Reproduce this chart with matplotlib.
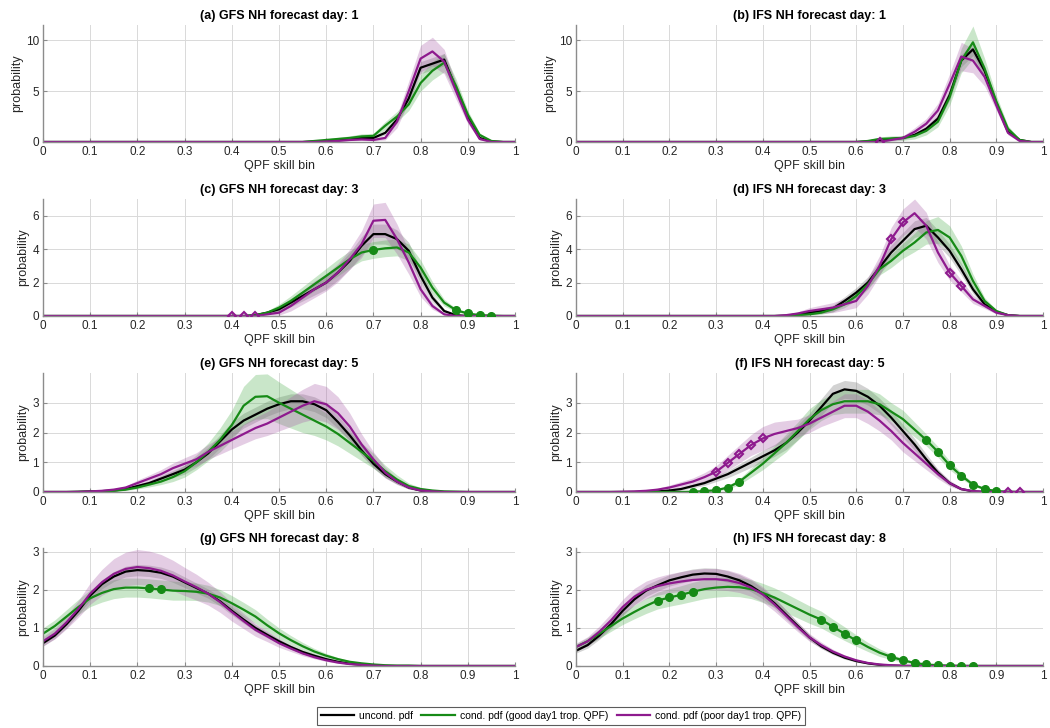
import matplotlib
matplotlib.use("Agg")
import matplotlib.pyplot as plt
import numpy as np

plt.rcParams["font.family"] = ["Liberation Sans", "DejaVu Sans"]

# skill bins 0:0.025:1
skill_bins = np.round(np.arange(41) * 0.025, 3)

panel_titles = [
    "(a) GFS NH forecast day: 1", "(b) IFS NH forecast day: 1",
    "(c) GFS NH forecast day: 3", "(d) IFS NH forecast day: 3",
    "(e) GFS NH forecast day: 5", "(f) IFS NH forecast day: 5",
    "(g) GFS NH forecast day: 8", "(h) IFS NH forecast day: 8",
]
y_limits = [11.5, 11.5, 7, 7, 4, 4, 3.1, 3.1]
y_ticks = [[0, 5, 10], [0, 5, 10], [0, 2, 4, 6], [0, 2, 4, 6],
           [0, 1, 2, 3], [0, 1, 2, 3], [0, 1, 2, 3], [0, 1, 2, 3]]

# ---- (a) GFS day 1
a_unc = [0] * 23 + [0.05, 0.1, 0.2, 0.3, 0.4, 0.4, 0.9, 2.2, 4.3, 7.3, 7.7, 8.1, 5.3, 2.5, 0.4, 0.05, 0, 0]
a_unc_err = [0] * 23 + [0.02, 0.05, 0.08, 0.1, 0.12, 0.12, 0.2, 0.35, 0.5, 0.6, 0.6, 0.6, 0.5, 0.3, 0.1, 0.02, 0, 0]
a_good = [0] * 23 + [0.1, 0.2, 0.3, 0.4, 0.55, 0.6, 1.6, 2.5, 3.7, 5.8, 7.0, 7.8, 5.5, 2.7, 0.7, 0.1, 0, 0]
a_good_err = [0] * 23 + [0.05, 0.1, 0.15, 0.2, 0.25, 0.25, 0.4, 0.5, 0.6, 0.8, 0.9, 0.9, 0.7, 0.4, 0.2, 0.05, 0, 0]
a_poor = [0] * 24 + [0.05, 0.1, 0.2, 0.25, 0.2, 0.4, 2.0, 5.0, 8.2, 8.9, 7.9, 5.0, 2.2, 0.3, 0, 0, 0]
a_poor_err = [0] * 24 + [0.03, 0.05, 0.08, 0.1, 0.1, 0.2, 0.6, 1.0, 1.3, 1.4, 1.2, 0.8, 0.4, 0.1, 0, 0, 0]
a_good_sig = []
a_poor_sig = []

# ---- (b) IFS day 1
b_unc = [0] * 25 + [0.05, 0.2, 0.3, 0.4, 0.7, 1.3, 2.3, 4.6, 8.0, 9.1, 7.0, 3.8, 1.0, 0.2, 0, 0]
b_unc_err = [0] * 25 + [0.02, 0.08, 0.1, 0.12, 0.15, 0.25, 0.35, 0.5, 0.6, 0.6, 0.5, 0.35, 0.15, 0.05, 0, 0]
b_good = [0] * 25 + [0.1, 0.3, 0.35, 0.4, 0.6, 1.1, 2.0, 4.4, 8.0, 9.8, 7.2, 4.0, 1.3, 0.2, 0, 0]
b_good_err = [0] * 25 + [0.08, 0.2, 0.25, 0.25, 0.3, 0.4, 0.5, 0.8, 1.2, 1.6, 1.0, 0.6, 0.3, 0.1, 0, 0]
b_poor = [0] * 26 + [0.0, 0.2, 0.4, 1.0, 1.8, 3.1, 5.7, 8.4, 8.0, 6.4, 3.6, 0.9, 0.1, 0, 0]
b_poor_err = [0] * 26 + [0.0, 0.1, 0.2, 0.4, 0.5, 0.7, 1.0, 1.4, 1.2, 0.9, 0.5, 0.2, 0.05, 0, 0]
b_good_sig = []
b_poor_sig = [0.65]

# ---- (c) GFS day 3
c_unc = [0] * 18 + [0.05, 0.2, 0.4, 0.8, 1.2, 1.6, 2.0, 2.6, 3.3, 4.2, 4.9, 4.9, 4.6, 3.9, 2.4, 1.1, 0.3, 0.05, 0, 0, 0, 0, 0]
c_unc_err = [0] * 18 + [0.02, 0.08, 0.15, 0.25, 0.3, 0.35, 0.4, 0.45, 0.5, 0.55, 0.6, 0.6, 0.55, 0.5, 0.4, 0.25, 0.1, 0.02, 0, 0, 0, 0, 0]
c_good = [0] * 18 + [0.05, 0.2, 0.5, 0.9, 1.4, 1.9, 2.4, 2.9, 3.4, 3.8, 3.95, 4.05, 4.1, 3.8, 2.9, 1.7, 0.8, 0.35, 0.15, 0.05, 0.02, 0, 0]
c_good_err = [0] * 18 + [0.02, 0.1, 0.2, 0.3, 0.35, 0.4, 0.45, 0.5, 0.5, 0.5, 0.5, 0.5, 0.5, 0.5, 0.45, 0.35, 0.2, 0.1, 0.05, 0.02, 0, 0, 0]
c_poor = [0] * 16 + [0, 0, 0, 0.1, 0.2, 0.6, 1.1, 1.6, 2.0, 2.6, 3.4, 4.3, 5.7, 5.75, 4.6, 3.2, 1.6, 0.6, 0.1, 0, 0, 0, 0, 0, 0]
c_poor_err = [0] * 16 + [0, 0, 0, 0.05, 0.15, 0.3, 0.4, 0.5, 0.5, 0.55, 0.6, 0.8, 1.0, 1.05, 0.9, 0.7, 0.45, 0.2, 0.05, 0, 0, 0, 0, 0, 0]
c_good_sig = [0.7, 0.875, 0.9, 0.925, 0.95]
c_poor_sig = [0.4, 0.425, 0.45]

# ---- (d) IFS day 3
d_unc = [0] * 18 + [0.02, 0.1, 0.2, 0.3, 0.45, 0.9, 1.4, 2.0, 2.9, 3.8, 4.5, 5.2, 5.4, 4.7, 3.9, 2.8, 1.6, 0.7, 0.25, 0.05, 0, 0, 0]
d_unc_err = [0] * 18 + [0.02, 0.05, 0.1, 0.15, 0.2, 0.25, 0.3, 0.35, 0.4, 0.45, 0.5, 0.5, 0.5, 0.45, 0.4, 0.35, 0.25, 0.15, 0.05, 0.02, 0, 0, 0]
d_good = [0] * 18 + [0, 0.05, 0.1, 0.2, 0.4, 0.7, 1.2, 1.9, 2.8, 3.3, 3.9, 4.4, 5.0, 5.15, 4.7, 3.6, 2.1, 0.9, 0.3, 0.05, 0, 0, 0]
d_good_err = [0] * 18 + [0, 0.03, 0.05, 0.1, 0.15, 0.2, 0.25, 0.3, 0.35, 0.4, 0.45, 0.55, 0.7, 0.8, 0.7, 0.6, 0.4, 0.2, 0.08, 0.02, 0, 0, 0]
d_poor = [0] * 18 + [0.05, 0.15, 0.3, 0.4, 0.5, 0.7, 0.9, 1.8, 3.0, 4.6, 5.6, 6.15, 5.4, 3.8, 2.6, 1.8, 1.0, 0.6, 0.2, 0.05, 0, 0, 0]
d_poor_err = [0] * 18 + [0.03, 0.1, 0.2, 0.25, 0.3, 0.35, 0.4, 0.5, 0.6, 0.7, 0.8, 0.85, 0.8, 0.6, 0.45, 0.35, 0.25, 0.15, 0.08, 0.02, 0, 0, 0]
d_good_sig = []
d_poor_sig = [0.675, 0.7, 0.8, 0.825]

# ---- (e) GFS day 5
e_unc = [0, 0, 0, 0.01, 0.02, 0.03, 0.05, 0.1, 0.2, 0.3, 0.45, 0.6, 0.75, 1.0, 1.3, 1.7, 2.1, 2.4, 2.6, 2.8,
         2.95, 3.05, 3.05, 2.95, 2.75, 2.35, 1.9, 1.4, 0.95, 0.6, 0.35, 0.15, 0.05, 0.02, 0, 0, 0, 0, 0, 0, 0]
e_unc_err = [0, 0, 0, 0, 0, 0.01, 0.02, 0.03, 0.05, 0.07, 0.1, 0.12, 0.15, 0.17, 0.2, 0.22, 0.25, 0.25, 0.25, 0.25,
             0.25, 0.25, 0.25, 0.25, 0.25, 0.22, 0.2, 0.17, 0.15, 0.12, 0.08, 0.05, 0.02, 0.01, 0, 0, 0, 0, 0, 0, 0]
e_good = [0, 0, 0, 0, 0.01, 0.02, 0.04, 0.08, 0.15, 0.25, 0.35, 0.5, 0.7, 1.0, 1.35, 1.75, 2.25, 2.9, 3.2, 3.22,
          3.0, 2.8, 2.6, 2.4, 2.2, 1.95, 1.65, 1.35, 1.05, 0.7, 0.42, 0.2, 0.1, 0.05, 0.02, 0.01, 0, 0, 0, 0, 0]
e_good_err = [0, 0, 0, 0, 0, 0.01, 0.02, 0.03, 0.05, 0.08, 0.1, 0.15, 0.2, 0.25, 0.3, 0.4, 0.5, 0.65, 0.75, 0.75,
              0.7, 0.65, 0.6, 0.5, 0.45, 0.4, 0.35, 0.3, 0.25, 0.2, 0.15, 0.1, 0.05, 0.03, 0.02, 0.01, 0, 0, 0, 0, 0]
e_poor = [0, 0, 0, 0, 0.02, 0.04, 0.08, 0.15, 0.3, 0.45, 0.6, 0.8, 0.95, 1.1, 1.35, 1.55, 1.75, 1.95, 2.15, 2.3,
          2.5, 2.7, 2.9, 3.05, 2.95, 2.65, 2.2, 1.6, 1.1, 0.65, 0.35, 0.15, 0.05, 0.02, 0, 0, 0, 0, 0, 0, 0]
e_poor_err = [0, 0, 0, 0, 0.01, 0.02, 0.03, 0.05, 0.1, 0.12, 0.15, 0.17, 0.2, 0.22, 0.25, 0.28, 0.3, 0.33, 0.36, 0.4,
              0.45, 0.5, 0.55, 0.6, 0.6, 0.55, 0.45, 0.35, 0.25, 0.18, 0.1, 0.05, 0.02, 0.01, 0, 0, 0, 0, 0, 0, 0]
e_good_sig = []
e_poor_sig = []

# ---- (f) IFS day 5
f_unc = [0, 0, 0, 0, 0, 0, 0.01, 0.02, 0.05, 0.1, 0.2, 0.3, 0.45, 0.6, 0.8, 1.0, 1.2, 1.4, 1.65, 2.0,
         2.4, 2.85, 3.3, 3.45, 3.4, 3.2, 2.9, 2.5, 2.05, 1.6, 1.1, 0.65, 0.3, 0.1, 0.02, 0, 0, 0, 0, 0, 0]
f_unc_err = [0, 0, 0, 0, 0, 0, 0, 0.01, 0.02, 0.04, 0.06, 0.08, 0.1, 0.12, 0.15, 0.17, 0.2, 0.2, 0.22, 0.25,
             0.25, 0.28, 0.3, 0.3, 0.3, 0.28, 0.25, 0.25, 0.22, 0.2, 0.18, 0.12, 0.07, 0.03, 0.01, 0, 0, 0, 0, 0, 0]
f_good = [0, 0, 0, 0, 0, 0, 0, 0, 0, 0, 0.01, 0.03, 0.06, 0.15, 0.35, 0.65, 0.95, 1.3, 1.65, 2.05,
          2.45, 2.75, 2.95, 3.05, 3.05, 3.05, 2.95, 2.7, 2.45, 2.1, 1.75, 1.35, 0.9, 0.55, 0.25, 0.1, 0.03, 0.01, 0, 0, 0]
f_good_err = [0] * 10 + [0.01, 0.02, 0.03, 0.06, 0.1, 0.15, 0.2, 0.25, 0.3, 0.3, 0.35, 0.35, 0.35, 0.4, 0.4,
                          0.4, 0.35, 0.3, 0.3, 0.25, 0.2, 0.18, 0.15, 0.1, 0.06, 0.03, 0.01, 0, 0, 0, 0]
f_poor = [0, 0, 0, 0, 0.01, 0.02, 0.04, 0.08, 0.15, 0.25, 0.35, 0.5, 0.68, 0.98, 1.28, 1.58, 1.8, 1.95, 2.05, 2.15,
          2.3, 2.5, 2.7, 2.9, 2.9, 2.7, 2.4, 2.05, 1.65, 1.3, 0.95, 0.6, 0.3, 0.1, 0.03, 0.01, 0, 0, 0, 0, 0]
f_poor_err = [0, 0, 0, 0, 0.01, 0.02, 0.03, 0.05, 0.08, 0.1, 0.12, 0.15, 0.2, 0.25, 0.3, 0.35, 0.4, 0.4, 0.35, 0.3,
              0.3, 0.3, 0.35, 0.4, 0.4, 0.4, 0.35, 0.3, 0.3, 0.25, 0.2, 0.15, 0.1, 0.05, 0.02, 0.01, 0, 0, 0, 0, 0]
f_good_sig = [0.25, 0.275, 0.3, 0.325, 0.35, 0.75, 0.775, 0.8, 0.825, 0.85, 0.875, 0.9]
f_poor_sig = [0.3, 0.325, 0.35, 0.375, 0.4, 0.925, 0.95]

# ---- (g) GFS day 8
g_unc = [0.6, 0.8, 1.1, 1.45, 1.85, 2.15, 2.35, 2.48, 2.52, 2.5, 2.45, 2.35, 2.2, 2.05, 1.9, 1.7, 1.45, 1.22, 1.0, 0.82,
         0.65, 0.5, 0.37, 0.27, 0.18, 0.11, 0.06, 0.03, 0.01, 0, 0, 0, 0, 0, 0, 0, 0, 0, 0, 0, 0]
g_unc_err = [0.08, 0.08, 0.1, 0.1, 0.12, 0.12, 0.13, 0.14, 0.15, 0.15, 0.15, 0.15, 0.14, 0.13, 0.12, 0.12, 0.11, 0.1, 0.09, 0.08,
             0.07, 0.06, 0.05, 0.04, 0.03, 0.02, 0.01, 0.01, 0, 0, 0, 0, 0, 0, 0, 0, 0, 0, 0, 0, 0]
g_good = [0.85, 1.05, 1.3, 1.55, 1.78, 1.92, 2.02, 2.06, 2.06, 2.04, 2.01, 1.98, 1.97, 1.95, 1.9, 1.8, 1.65, 1.48, 1.3, 1.07,
          0.86, 0.68, 0.52, 0.38, 0.27, 0.18, 0.11, 0.07, 0.04, 0.02, 0.01, 0.01, 0, 0, 0, 0, 0, 0, 0, 0, 0]
g_good_err = [0.15, 0.16, 0.18, 0.2, 0.22, 0.24, 0.25, 0.25, 0.25, 0.25, 0.25, 0.25, 0.24, 0.23, 0.22, 0.21, 0.2, 0.19, 0.18, 0.16,
              0.14, 0.12, 0.1, 0.08, 0.06, 0.04, 0.03, 0.02, 0.01, 0.01, 0, 0, 0, 0, 0, 0, 0, 0, 0, 0, 0]
g_poor = [0.65, 0.85, 1.15, 1.5, 1.9, 2.2, 2.42, 2.55, 2.6, 2.57, 2.5, 2.38, 2.22, 2.07, 1.9, 1.68, 1.42, 1.18, 0.95, 0.78,
          0.6, 0.46, 0.33, 0.23, 0.15, 0.09, 0.05, 0.03, 0.01, 0, 0, 0, 0, 0, 0, 0, 0, 0, 0, 0, 0]
g_poor_err = [0.12, 0.14, 0.17, 0.22, 0.28, 0.34, 0.4, 0.44, 0.46, 0.45, 0.43, 0.4, 0.37, 0.34, 0.3, 0.27, 0.24, 0.2, 0.17, 0.14,
              0.11, 0.08, 0.06, 0.04, 0.03, 0.02, 0.01, 0.01, 0, 0, 0, 0, 0, 0, 0, 0, 0, 0, 0, 0, 0]
g_good_sig = [0.225, 0.25]
g_poor_sig = []

# ---- (h) IFS day 8
h_unc = [0.4, 0.55, 0.8, 1.1, 1.45, 1.75, 1.98, 2.12, 2.25, 2.33, 2.4, 2.43, 2.42, 2.35, 2.25, 2.1, 1.9, 1.65, 1.35, 1.05,
         0.75, 0.52, 0.35, 0.22, 0.13, 0.07, 0.03, 0.01, 0, 0, 0, 0, 0, 0, 0, 0, 0, 0, 0, 0, 0]
h_unc_err = [0.06, 0.08, 0.1, 0.12, 0.13, 0.14, 0.15, 0.15, 0.15, 0.15, 0.15, 0.15, 0.15, 0.15, 0.15, 0.15, 0.14, 0.13, 0.12, 0.1,
             0.08, 0.06, 0.05, 0.04, 0.03, 0.02, 0.01, 0.01, 0, 0, 0, 0, 0, 0, 0, 0, 0, 0, 0, 0, 0]
h_good = [0.5, 0.65, 0.85, 1.05, 1.25, 1.42, 1.58, 1.72, 1.8, 1.87, 1.95, 2.02, 2.06, 2.08, 2.07, 2.02, 1.92, 1.8, 1.65, 1.5,
          1.35, 1.22, 1.03, 0.85, 0.67, 0.5, 0.35, 0.24, 0.15, 0.08, 0.04, 0.02, 0.01, 0, 0, 0, 0, 0, 0, 0, 0]
h_good_err = [0.08, 0.1, 0.12, 0.14, 0.16, 0.18, 0.2, 0.22, 0.23, 0.24, 0.25, 0.25, 0.25, 0.25, 0.25, 0.25, 0.25, 0.25, 0.25, 0.24,
              0.23, 0.22, 0.2, 0.18, 0.15, 0.12, 0.1, 0.07, 0.05, 0.03, 0.02, 0.01, 0, 0, 0, 0, 0, 0, 0, 0, 0]
h_poor = [0.5, 0.65, 0.9, 1.2, 1.55, 1.82, 2.0, 2.1, 2.17, 2.22, 2.26, 2.28, 2.28, 2.25, 2.18, 2.06, 1.88, 1.62, 1.32, 1.02,
          0.75, 0.55, 0.38, 0.25, 0.15, 0.08, 0.04, 0.02, 0.01, 0, 0, 0, 0, 0, 0, 0, 0, 0, 0, 0, 0]
h_poor_err = [0.1, 0.12, 0.15, 0.18, 0.2, 0.22, 0.23, 0.24, 0.25, 0.26, 0.27, 0.28, 0.28, 0.27, 0.25, 0.23, 0.2, 0.18, 0.15, 0.12,
              0.1, 0.08, 0.06, 0.04, 0.03, 0.02, 0.01, 0.01, 0, 0, 0, 0, 0, 0, 0, 0, 0, 0, 0, 0, 0]
h_good_sig = [0.175, 0.2, 0.225, 0.25, 0.525, 0.55, 0.575, 0.6, 0.675, 0.7, 0.725, 0.75, 0.775, 0.8, 0.825, 0.85]
h_poor_sig = []

panels = [
    (a_unc, a_unc_err, a_good, a_good_err, a_poor, a_poor_err, a_good_sig, a_poor_sig),
    (b_unc, b_unc_err, b_good, b_good_err, b_poor, b_poor_err, b_good_sig, b_poor_sig),
    (c_unc, c_unc_err, c_good, c_good_err, c_poor, c_poor_err, c_good_sig, c_poor_sig),
    (d_unc, d_unc_err, d_good, d_good_err, d_poor, d_poor_err, d_good_sig, d_poor_sig),
    (e_unc, e_unc_err, e_good, e_good_err, e_poor, e_poor_err, e_good_sig, e_poor_sig),
    (f_unc, f_unc_err, f_good, f_good_err, f_poor, f_poor_err, f_good_sig, f_poor_sig),
    (g_unc, g_unc_err, g_good, g_good_err, g_poor, g_poor_err, g_good_sig, g_poor_sig),
    (h_unc, h_unc_err, h_good, h_good_err, h_poor, h_poor_err, h_good_sig, h_poor_sig),
]

UNC_COL = "black"
GOOD_COL = "#168a16"
POOR_COL = "#8e1a8e"
AX_COL = "#262626"

W, H = 1050, 728
fig = plt.figure(figsize=(W / 100, H / 100), dpi=100)

col_left = [43, 576]
ax_w = [472, 467]
row_top = [25, 199, 373, 548]
row_bot = [142, 316, 492, 666]

for k, (unc, unc_e, good, good_e, poor, poor_e, good_sig, poor_sig) in enumerate(panels):
    r, c = divmod(k, 2)
    ax = fig.add_axes([col_left[c] / W, 1 - row_bot[r] / H, ax_w[c] / W, (row_bot[r] - row_top[r]) / H])
    for vals, err, col, shade, alpha in [
        (unc, unc_e, UNC_COL, "gray", 0.35),
        (good, good_e, GOOD_COL, "#4caf4c", 0.3),
        (poor, poor_e, POOR_COL, "#a75aa7", 0.3),
    ]:
        v = np.array(vals, dtype=float)
        e = np.array(err, dtype=float)
        ax.fill_between(skill_bins, np.clip(v - e, 0, None), v + e, color=shade, alpha=alpha, lw=0)
    ax.plot(skill_bins, unc, color=UNC_COL, lw=1.6)
    ax.plot(skill_bins, good, color=GOOD_COL, lw=1.6)
    ax.plot(skill_bins, poor, color=POOR_COL, lw=1.6)
    good_arr = np.array(good, dtype=float)
    poor_arr = np.array(poor, dtype=float)
    for xs in good_sig:
        i = int(round(xs / 0.025))
        ax.plot(skill_bins[i], good_arr[i], "o", color=GOOD_COL, ms=5.5, zorder=5)
    for xs in poor_sig:
        i = int(round(xs / 0.025))
        ax.plot(skill_bins[i], poor_arr[i], "D", mfc="none", mec=POOR_COL, mew=1.5, ms=4.5, zorder=5)

    ax.set_xlim(0, 1)
    ax.set_ylim(0, y_limits[k])
    ax.set_xticks(np.round(np.arange(11) * 0.1, 1))
    ax.set_xticklabels(["0", "0.1", "0.2", "0.3", "0.4", "0.5", "0.6", "0.7", "0.8", "0.9", "1"])
    ax.set_yticks(y_ticks[k])
    ax.grid(True, color="#d9d9d9", lw=0.7)
    ax.set_axisbelow(True)
    for s in ["top", "right"]:
        ax.spines[s].set_visible(False)
    for s in ["left", "bottom"]:
        ax.spines[s].set_color("#8c8c8c")
        ax.spines[s].set_linewidth(1.0)
    ax.tick_params(direction="in", length=3, colors="#8c8c8c", labelcolor=AX_COL, labelsize=8.5, pad=3)
    ax.set_title(panel_titles[k], fontsize=9, fontweight="bold", pad=4, color="black")
    ax.set_xlabel("QPF skill bin", fontsize=9, color=AX_COL, labelpad=1)
    ax.set_ylabel("probability", fontsize=9, color=AX_COL, labelpad=2)

handles = [
    plt.Line2D([], [], color=UNC_COL, lw=1.6),
    plt.Line2D([], [], color=GOOD_COL, lw=1.6),
    plt.Line2D([], [], color=POOR_COL, lw=1.6),
]
labels = ["uncond. pdf", "cond. pdf (good day1 trop. QPF)", "cond. pdf (poor day1 trop. QPF)"]
leg = fig.legend(handles, labels, loc="center", bbox_to_anchor=(561 / W, 1 - 716 / H), ncol=3,
                 fontsize=7.5, frameon=True, fancybox=False, handlelength=3.2, handletextpad=0.5,
                 columnspacing=0.8, borderpad=0.35)
leg.get_frame().set_edgecolor("#333333")
leg.get_frame().set_linewidth(0.8)

fig.savefig("out.png", dpi=100)
